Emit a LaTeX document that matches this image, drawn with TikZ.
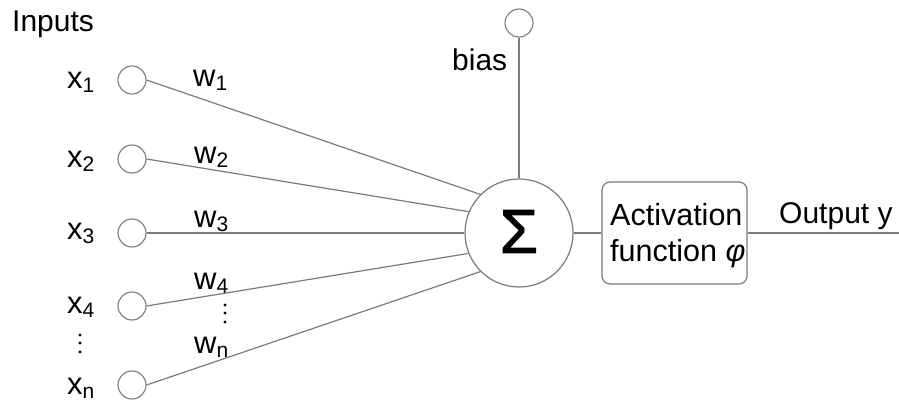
\documentclass[tikz,border=0pt]{standalone}
\usepackage{fontspec}
\setmainfont{Liberation Sans}
\newfontface\sigmaface{Liberation Sans}[FakeBold=1.6]
\definecolor{wirecol}{HTML}{7A7A7A}
\newcommand\idx[1]{\raisebox{-4pt}{\fontsize{21}{24}\selectfont #1}}
\begin{document}
\begin{tikzpicture}[x=1pt,y=-1pt,
  wire/.style={draw=wirecol, line width=1.2pt},
  inp/.style={circle, draw=wirecol, line width=1.1pt, minimum size=28pt, inner sep=0pt},
  sumnode/.style={circle, draw=wirecol, line width=1.2pt, minimum size=108pt, inner sep=0pt},
  actbox/.style={draw=wirecol, line width=1.2pt, rounded corners=8pt, minimum width=145pt,
    minimum height=102pt, inner sep=0pt},
  bigtxt/.style={anchor=base west, inner sep=0pt, font=\fontsize{31}{36}\selectfont},
  midtxt/.style={anchor=base west, inner sep=0pt, font=\fontsize{30}{36}\selectfont},
  dot/.style={circle, fill=black, inner sep=0pt, minimum size=3.2pt}]
\useasboundingbox (0,0) rectangle (899,401);

% heading
\node[midtxt] (title) at (12,32) {Inputs};

% input neurons
\node[inp] (i1) at (132,80) {};
\node[inp] (i2) at (132,159) {};
\node[inp] (i3) at (132,233) {};
\node[inp] (i4) at (132,306) {};
\node[inp] (i5) at (132,385) {};

% input labels
\node[bigtxt] (x1) at (67,89) {x\idx{1}};
\node[bigtxt] (x2) at (67,167) {x\idx{2}};
\node[bigtxt] (x3) at (67,239) {x\idx{3}};
\node[bigtxt] (x4) at (67,313) {x\idx{4}};
\node[bigtxt] (xn) at (67,394) {x\idx{n}};
\node[dot] (xd1) at (80,335) {};
\node[dot] (xd2) at (80,343) {};
\node[dot] (xd3) at (80,352) {};

% weight labels
\node[bigtxt] (w1) at (193,87) {w\idx{1}};
\node[bigtxt] (w2) at (194,163) {w\idx{2}};
\node[bigtxt] (w3) at (194,227) {w\idx{3}};
\node[bigtxt] (w4) at (194,289) {w\idx{4}};
\node[bigtxt] (wn) at (194,353) {w\idx{n}};
\node[dot] (wd1) at (225,305) {};
\node[dot] (wd2) at (225,313) {};
\node[dot] (wd3) at (225,322) {};

% summation, bias, activation
\node[sumnode] (sum) at (519,233) {\raisebox{3pt}{\fontsize{62}{62}\sigmaface Σ}};
\node[inp] (bias) at (519,23) {};
\node[midtxt] (biaslbl) at (452,71) {bias};
\node[actbox] (act) at (674.5,233) {};
% two-line label: the base anchor sits on the last line
\node[anchor=base west, inner sep=0pt, align=left, font=\fontsize{30.5}{36}\selectfont]
  (actlbl) at (610,261) {Activation\\function {\itshape φ}};
\coordinate (out) at (899,233);
\node[midtxt] (outlbl) at (779,223) {Output y};

% connections
\draw[wire] (i1.east) -- (sum.135);
\draw[wire] (i2.east) -- (sum.157.5);
\draw[wire] (i3.east) -- (sum.180);
\draw[wire] (i4.east) -- (sum.202.5);
\draw[wire] (i5.east) -- (sum.225);
\draw[wire] (bias.south) -- (sum.north);
\draw[wire] (sum.east) -- (act.west);
\draw[wire] (act.east) -- (out);
\end{tikzpicture}
\end{document}
